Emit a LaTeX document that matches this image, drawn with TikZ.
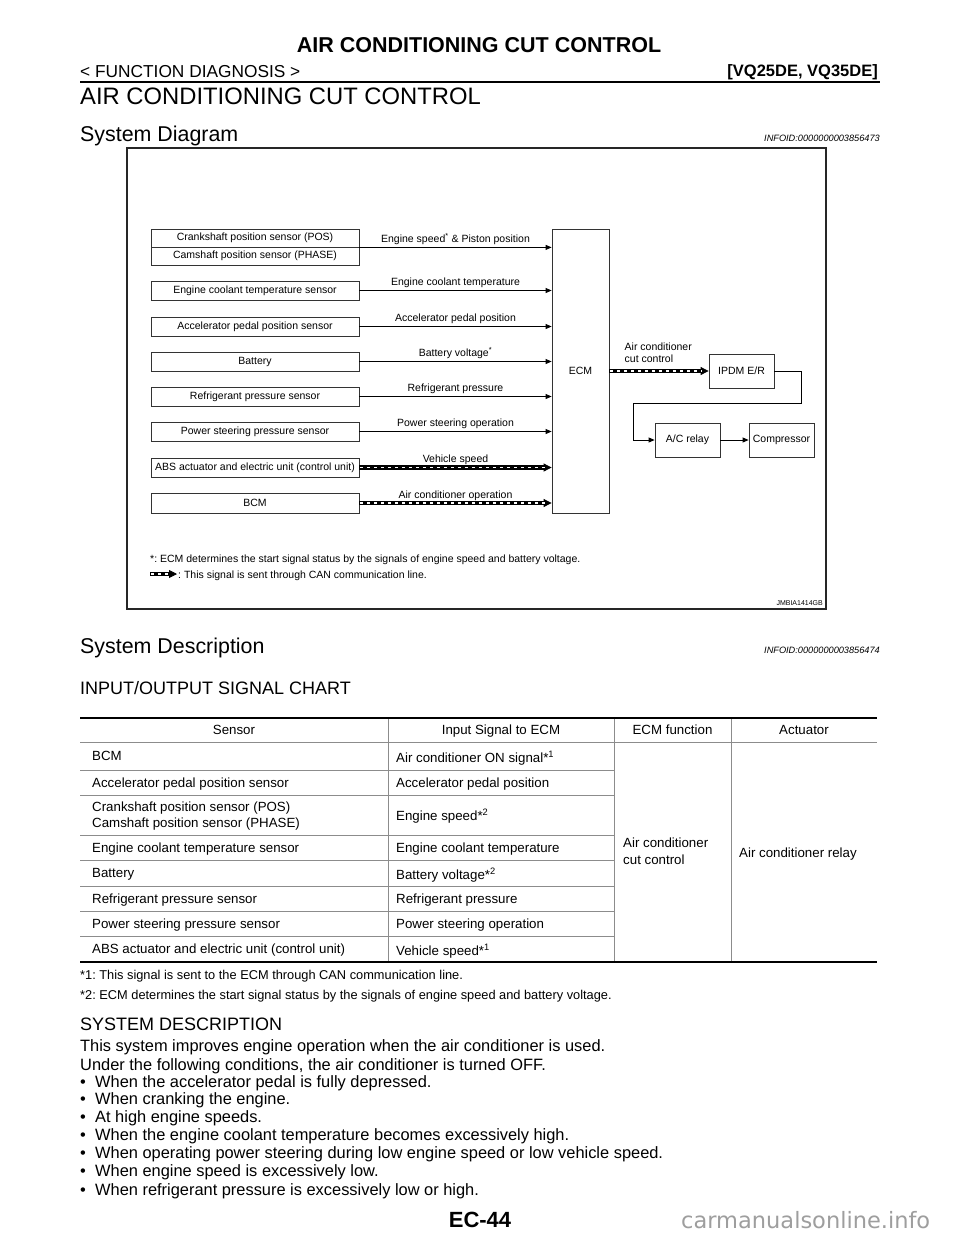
\documentclass[tikz,border=0pt]{standalone}
\usepackage{fontspec}
\setmainfont{Liberation Sans}
\newfontfamily\wmfont{DejaVu Sans}
\usetikzlibrary{arrows.meta}
\newcommand{\fs}[2]{\fontsize{#1}{#2}\selectfont}
\newcommand{\dfont}{\fontsize{10.5pt}{12pt}\selectfont}
\newcommand{\tfont}{\fontsize{13.3pt}{16pt}\selectfont}
\newcommand{\bfont}{\fontsize{16.4pt}{18pt}\selectfont}
\frenchspacing
\begin{document}
\begin{tikzpicture}[x=1pt,y=-1pt,
  txt/.style={anchor=base west, inner sep=0pt},
  ctxt/.style={anchor=base, inner sep=0pt},
  box/.style={draw=black!80, line width=0.8pt, minimum width=208pt, minimum height=19pt, inner sep=0pt, font=\dfont},
  sbox/.style={box, minimum width=65pt, minimum height=34pt},
  sig/.style={draw=black, line width=0.8pt, -{Triangle[length=6pt,width=5pt]}},
  can/.style={draw=black, line width=0.8pt, -{Triangle[length=8pt,width=8pt]},
    preaction={draw=black, line width=4.4pt, -, shorten >=6pt},
    postaction={draw=white, line width=1.7pt, -, dash pattern=on 3pt off 4pt, shorten >=7pt, shorten <=1pt}},
  lbl/.style={font=\dfont, anchor=base, inner sep=0pt, yshift=4.7pt},
  tline/.style={draw=black!45, line width=0.8pt},
  rule/.style={draw=black, line width=2.5pt}
]
\useasboundingbox (0,0) rectangle (960,1242);
\fill[white] (0,0) rectangle (960,1242);

% ---------- header ----------
\node[ctxt, font=\bfseries\fs{21.5pt}{24pt}] (title) at (479,52) {AIR CONDITIONING CUT CONTROL};
\node[txt, font=\fs{17.3pt}{20pt}] (fdiag) at (80,77) {< FUNCTION DIAGNOSIS >};
\node[anchor=base east, inner sep=0pt, font=\bfseries\fs{16.5pt}{20pt}] (vq) at (878,76) {[VQ25DE, VQ35DE]};
\draw[draw=black, line width=2.6pt] (80,82) -- (880,82);
\node[txt, font=\fs{23.8pt}{28pt}] (sect) at (80,104) {AIR CONDITIONING CUT CONTROL};
\node[txt, font=\fs{21.4pt}{24pt}] (sysdiag) at (80,141) {System Diagram};
\node[anchor=base east, inner sep=0pt, font=\itshape\fs{9.2pt}{11pt}] (info1) at (880,141) {INFOID:0000000003856473};

% ---------- diagram ----------
\draw[draw=black!85, line width=1.4pt] (127,148) rectangle (826,609);

\node[box, minimum height=18pt] (crank) at (255,238) {Crankshaft position sensor (POS)};
\node[box, minimum height=18pt] (cam) at (255,256) {Camshaft position sensor (PHASE)};
\node[box] (ect) at (255,290.5) {Engine coolant temperature sensor};
\node[box] (app) at (255,326.5) {Accelerator pedal position sensor};
\node[box] (batt) at (255,361.5) {Battery};
\node[box] (refr) at (255,396.5) {Refrigerant pressure sensor};
\node[box] (ps) at (255,431.5) {Power steering pressure sensor};
\node[box] (abs) at (255,467.5) {ABS actuator and electric unit (control unit)};
\node[box, minimum height=20pt] (bcm) at (255,503) {BCM};

\node[box, minimum width=57pt, minimum height=284pt] (ecm) at (580.5,371) {ECM};

\draw[sig] (crank.south east) -- (crank.south east -| ecm.west) node[lbl, midway] {Engine speed\textsuperscript{*} \& Piston position};
\draw[sig] (ect.east) -- (ect.east -| ecm.west) node[lbl, midway] {Engine coolant temperature};
\draw[sig] (app.east) -- (app.east -| ecm.west) node[lbl, midway] {Accelerator pedal position};
\draw[sig] (batt.east) -- (batt.east -| ecm.west) node[lbl, midway] {Battery voltage\textsuperscript{*}};
\draw[sig] (refr.east) -- (refr.east -| ecm.west) node[lbl, midway] {Refrigerant pressure};
\draw[sig] (ps.east) -- (ps.east -| ecm.west) node[lbl, midway] {Power steering operation};
\draw[can] (abs.east) -- (abs.east -| ecm.west) node[lbl, midway] {Vehicle speed};
\draw[can] (bcm.east) -- (bcm.east -| ecm.west) node[lbl, midway] {Air conditioner operation};

\node[sbox] (ipdm) at (741.5,371) {IPDM E/R};
\node[sbox] (relay) at (687.5,440) {A/C relay};
\node[sbox] (comp) at (781.5,440) {Compressor};

\draw[can] (ecm.east |- ipdm.west) -- (ipdm.west)
  node[pos=0.15, anchor=south west, inner sep=0pt, yshift=8pt, align=left, font=\dfont] {Air conditioner\\cut control};
\draw[sig] (ipdm.east) -- ++(27,0) |- (633,403) |- (relay.west);
\draw[sig] (relay.east) -- (comp.west);

\node[txt, font=\dfont] (note1) at (150,562) {*: ECM determines the start signal status by the signals of engine speed and battery voltage.};
\coordinate (lg1) at (150,574);
\coordinate (lg2) at (177,574);
\draw[can] (lg1) -- (lg2);
\node[txt, font=\dfont] (note2) at (178,578) {: This signal is sent through CAN communication line.};
\node[anchor=base east, inner sep=0pt, font=\fs{7pt}{8pt}] (jmb) at (823,605) {JMBIA1414GB};

% ---------- system description ----------
\node[txt, font=\fs{21.4pt}{24pt}] (sysdesc) at (80,653) {System Description};
\node[anchor=base east, inner sep=0pt, font=\itshape\fs{9.2pt}{11pt}] (info2) at (880,653) {INFOID:0000000003856474};
\node[txt, font=\fs{18pt}{21pt}] (chart) at (80,694.5) {INPUT/OUTPUT SIGNAL CHART};

% table lines
\draw[tline] (80,742) -- (877,742);
\foreach \yy in {770,795,835,860,886,911,936} { \draw[tline] (80,\yy) -- (614,\yy); }
\draw[tline] (388,718) -- (388,962);
\draw[tline] (614,718) -- (614,962);
\draw[tline] (731,718) -- (731,962);
\draw[rule] (80,718) -- (877,718);
\draw[rule] (80,962) -- (877,962);

% table header
\node[ctxt, font=\tfont] (h1) at (234,734.8) {Sensor};
\node[ctxt, font=\tfont] (h2) at (501,734.8) {Input Signal to ECM};
\node[ctxt, font=\tfont] (h3) at (672.5,734.8) {ECM function};
\node[ctxt, font=\tfont] (h4) at (804,734.8) {Actuator};

% table body
\node[txt, font=\tfont] (r1a) at (92,760.8) {BCM};
\node[txt, font=\tfont] (r1b) at (396,762.8) {Air conditioner ON signal*\textsuperscript{1}};
\node[txt, font=\tfont] (r2a) at (92,787.3) {Accelerator pedal position sensor};
\node[txt, font=\tfont] (r2b) at (396,787.3) {Accelerator pedal position};
\node[txt, font=\tfont] (r3a) at (92,811.8) {Crankshaft position sensor (POS)};
\node[txt, font=\tfont] (r3c) at (92,827.8) {Camshaft position sensor (PHASE)};
\node[txt, font=\tfont] (r3b) at (396,820.8) {Engine speed*\textsuperscript{2}};
\node[txt, font=\tfont] (r4a) at (92,852.3) {Engine coolant temperature sensor};
\node[txt, font=\tfont] (r4b) at (396,852.3) {Engine coolant temperature};
\node[txt, font=\tfont] (r5a) at (92,877.8) {Battery};
\node[txt, font=\tfont] (r5b) at (396,879.8) {Battery voltage*\textsuperscript{2}};
\node[txt, font=\tfont] (r6a) at (92,903.3) {Refrigerant pressure sensor};
\node[txt, font=\tfont] (r6b) at (396,903.3) {Refrigerant pressure};
\node[txt, font=\tfont] (r7a) at (92,928.3) {Power steering pressure sensor};
\node[txt, font=\tfont] (r7b) at (396,928.3) {Power steering operation};
\node[txt, font=\tfont] (r8a) at (92,953.8) {ABS actuator and electric unit (control unit)};
\node[txt, font=\tfont] (r8b) at (396,955.8) {Vehicle speed*\textsuperscript{1}};
\node[txt, font=\tfont] (fn1) at (623,847.8) {Air conditioner};
\node[txt, font=\tfont] (fn2) at (623,864.8) {cut control};
\node[txt, font=\tfont] (act) at (739,857.8) {Air conditioner relay};

\node[txt, font=\fs{12.8pt}{15pt}] (foot1) at (80,979.8) {*1: This signal is sent to the ECM through CAN communication line.};
\node[txt, font=\fs{12.8pt}{15pt}] (foot2) at (80,999.8) {*2: ECM determines the start signal status by the signals of engine speed and battery voltage.};

% ---------- system description text ----------
\node[txt, font=\fs{18pt}{21pt}] (sdh) at (80,1030.5) {SYSTEM DESCRIPTION};
\node[txt, font=\bfont] (p1) at (80,1051.9) {This system improves engine operation when the air conditioner is used.};
\node[txt, font=\bfont] (p2) at (80,1070.2) {Under the following conditions, the air conditioner is turned OFF.};
\node[txt, font=\bfont] (d1) at (80,1087.6) {•};
\node[txt, font=\bfont] (i1) at (95,1087.6) {When the accelerator pedal is fully depressed.};
\node[txt, font=\bfont] (d2) at (80,1104.9) {•};
\node[txt, font=\bfont] (i2) at (95,1104.9) {When cranking the engine.};
\node[txt, font=\bfont] (d3) at (80,1122.6) {•};
\node[txt, font=\bfont] (i3) at (95,1122.6) {At high engine speeds.};
\node[txt, font=\bfont] (d4) at (80,1140.2) {•};
\node[txt, font=\bfont] (i4) at (95,1140.2) {When the engine coolant temperature becomes excessively high.};
\node[txt, font=\bfont] (d5) at (80,1158.6) {•};
\node[txt, font=\bfont] (i5) at (95,1158.6) {When operating power steering during low engine speed or low vehicle speed.};
\node[txt, font=\bfont] (d6) at (80,1176.6) {•};
\node[txt, font=\bfont] (i6) at (95,1176.6) {When engine speed is excessively low.};
\node[txt, font=\bfont] (d7) at (80,1195.2) {•};
\node[txt, font=\bfont] (i7) at (95,1195.2) {When refrigerant pressure is excessively low or high.};

\node[ctxt, font=\bfseries\fs{22pt}{26pt}] (page) at (480,1227) {EC-44};
\node[txt, font=\wmfont\fs{22.5pt}{26pt}, text=black!38] (wm) at (681,1228) {carmanualsonline.info};
\end{tikzpicture}
\end{document}
